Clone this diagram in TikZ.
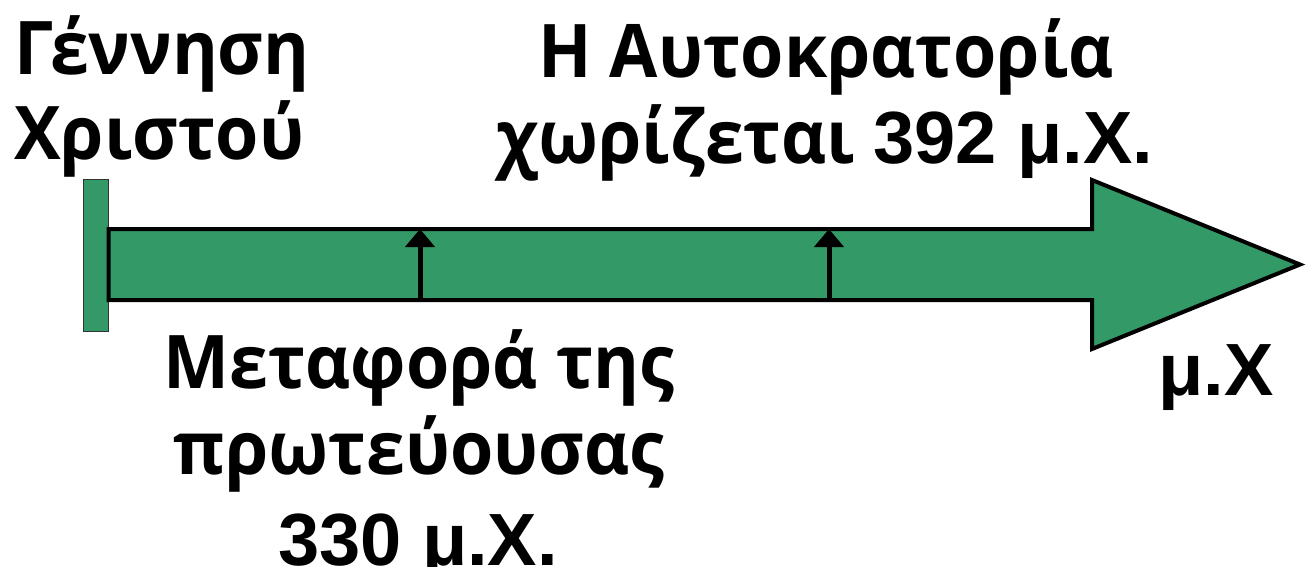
\documentclass[tikz,border=0pt]{standalone}
\usepackage{fontspec}
\setmainfont{Open Sans}[FakeStretch=0.945]
\newfontfamily\arfont{Liberation Sans}
\usetikzlibrary{arrows.meta}
\definecolor{tlgreen}{RGB}{51,153,102}
\tikzset{
  lbl/.style={inner sep=0pt, font=\fontsize{74}{86}\selectfont\bfseries},
  body/.style={draw=black, line width=4pt, fill=tlgreen, line join=miter},
  bar/.style={draw=black!80, line width=1.2pt, fill=tlgreen, inner sep=0pt, minimum width=25pt, minimum height=152pt},
  tick/.style={draw=black, line width=5pt, -{Triangle[width=29pt,length=18pt]}}
}
\begin{document}
\begin{tikzpicture}[x=1pt,y=-1pt]
\useasboundingbox (0,0) rectangle (1306,566);
% start bar
\node[bar] (start) at (96,255.5) {};
% arrow body
\path[body] (108.5,229) -- (1092,229) -- (1092,180) -- (1300,264.5) -- (1092,349) -- (1092,300) -- (108.5,300) -- cycle;
% ticks
\coordinate (t1b) at (420,300);
\coordinate (t1t) at (420,229);
\coordinate (t2b) at (829,300);
\coordinate (t2t) at (829,229);
\draw[tick] (t1b) -- (t1t);
\draw[tick] (t2b) -- (t2t);
% labels
\node[lbl, anchor=base west] (g1) at (14,74) {Γέννηση};
\node[lbl, anchor=base west] (g2) at (14,159) {Χριστού};
\node[lbl, anchor=base] (a1) at (826,77) {Η Αυτοκρατορία};
\node[lbl, anchor=base] (a2) at (825,163) {χωρίζεται {\arfont 392 μ.Χ.}};
\node[lbl, anchor=base] (m1) at (419,388) {Μεταφορά της};
\node[lbl, anchor=base] (m2) at (419,474) {πρωτεύουσας};
\node[lbl, anchor=base] (m3) at (418,565) {\arfont 330 μ.Χ.};
\node[lbl, anchor=base] (mx) at (1216,395) {\arfont μ.Χ};
\end{tikzpicture}
\end{document}
